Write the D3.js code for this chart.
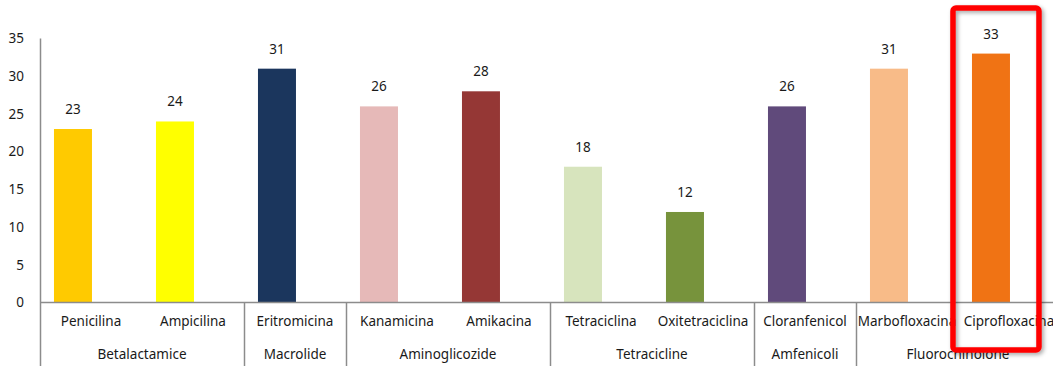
<!DOCTYPE html>
<html>
<head>
<meta charset="utf-8">
<script src="https://cdn.jsdelivr.net/npm/d3@7"></script>
<style>
  html, body { margin: 0; padding: 0; background: #fff; overflow: hidden; }
  svg { display: block; font-family: "Noto Sans", "Open Sans", sans-serif; }
</style>
</head>
<body>
<svg id="chart" width="1053" height="366"></svg>
<script>
const categories = ["Penicilina", "Ampicilina", "Eritromicina", "Kanamicina", "Amikacina",
  "Tetraciclina", "Oxitetraciclina", "Cloranfenicol", "Marbofloxacina", "Ciprofloxacina"];
const values = [23, 24, 31, 26, 28, 18, 12, 26, 31, 33];
const colors = ["#FFCA00", "#FFFF00", "#1B365D", "#E6B9B8", "#953735",
  "#D7E4BD", "#77933C", "#604A7B", "#F8BB88", "#F07314"];
const groups = ["Betalactamice", "Macrolide", "Aminoglicozide", "Tetracicline", "Amfenicoli", "Fluorochinolone"];
const groupSizes = [2, 1, 2, 2, 1, 2];
const yTicks = [0, 5, 10, 15, 20, 25, 30, 35];
const highlighted = "Ciprofloxacina";

const svg = d3.select("#chart");
const axisColor = "#8C8C8C";
const textColor = "#1a1a1a";

const x = d3.scaleBand().domain(categories).range([40, 1060]).paddingInner(0).paddingOuter(0);
const y = d3.scaleLinear().domain([0, 35]).range([302.5, 38.5]);
const bw = x.bandwidth();
const barW = bw * 0.3725;
const barOff = bw * 0.137;

// shadow filter for highlight box
const defs = svg.append("defs");
const f = defs.append("filter").attr("id", "sh").attr("x", "-10%").attr("y", "-10%").attr("width", "130%").attr("height", "130%");
f.append("feDropShadow").attr("dx", 2).attr("dy", 2).attr("stdDeviation", 2).attr("flood-color", "#000").attr("flood-opacity", 0.35);

// y axis labels
const yAxis = d3.axisLeft(y).tickValues(yTicks).tickSize(0).tickPadding(16);
const yg = svg.append("g").attr("transform", "translate(40,0)").call(yAxis);
yg.select(".domain").remove();
yg.selectAll("text").attr("font-size", "13.5px").attr("fill", textColor).attr("font-family", "'Noto Sans', sans-serif");

// bars
svg.append("g").selectAll("rect").data(categories).join("rect")
  .attr("x", d => x(d) + barOff)
  .attr("width", barW)
  .attr("y", (d, i) => y(values[i]))
  .attr("height", (d, i) => y(0) - y(values[i]))
  .attr("fill", (d, i) => colors[i]);

// value labels
svg.append("g").selectAll("text").data(categories).join("text")
  .attr("x", d => x(d) + barOff + barW / 2)
  .attr("y", (d, i) => y(values[i]) - 15)
  .attr("text-anchor", "middle")
  .attr("font-size", "13.5px")
  .attr("fill", textColor)
  .text((d, i) => values[i]);

// axes lines
svg.append("line").attr("x1", 40.5).attr("x2", 40.5).attr("y1", y(35)).attr("y2", 366)
  .attr("stroke", axisColor).attr("stroke-width", 1.5);
svg.append("line").attr("x1", 40).attr("x2", 1060).attr("y1", y(0)).attr("y2", y(0))
  .attr("stroke", axisColor).attr("stroke-width", 1.5);

// category labels
const xAxis = d3.axisBottom(x).tickSize(0).tickPadding(14);
const xg = svg.append("g").attr("transform", `translate(0,${y(0)})`).call(xAxis);
xg.select(".domain").remove();
xg.selectAll("text").attr("font-size", "13.5px").attr("fill", textColor).attr("font-family", "'Noto Sans', sans-serif");

// group labels and dividers
let idx = 0;
const gg = svg.append("g");
groups.forEach((g, gi) => {
  const first = categories[idx];
  const last = categories[idx + groupSizes[gi] - 1];
  const x0 = x(first), x1 = x(last) + bw;
  gg.append("text").attr("x", (x0 + x1) / 2).attr("y", 359)
    .attr("text-anchor", "middle").attr("font-size", "13.5px").attr("fill", textColor).text(g);
  if (gi > 0) {
    gg.append("line").attr("x1", x0 + 0.5).attr("x2", x0 + 0.5).attr("y1", y(0)).attr("y2", 366)
      .attr("stroke", axisColor).attr("stroke-width", 1.5);
  }
  idx += groupSizes[gi];
});

// highlight box
const hx = x(highlighted);
svg.append("rect")
  .attr("x", hx + barOff - 19).attr("y", 8)
  .attr("width", 86).attr("height", 342)
  .attr("rx", 3)
  .attr("fill", "none").attr("stroke", "#FF0000").attr("stroke-width", 5.5)
  .attr("filter", "url(#sh)");
</script>
</body>
</html>
